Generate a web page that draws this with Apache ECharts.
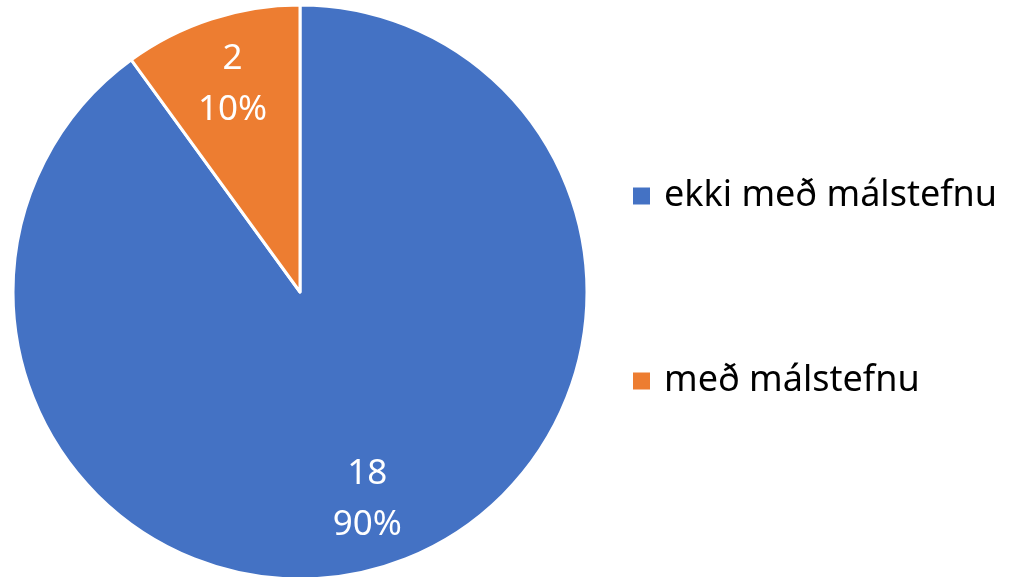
<!DOCTYPE html>
<html>
<head>
<meta charset="utf-8">
<script src="https://cdn.jsdelivr.net/npm/echarts@6/dist/echarts.min.js"></script>
<style>
  html, body { margin: 0; padding: 0; background: #fff; }
  #main { width: 1010px; height: 577px; }
</style>
</head>
<body>
<div id="main"></div>
<script>
// gögn úr myndinni
const categories = ['ekki með málstefnu', 'með málstefnu'];
const counts = [18, 2];
const colors = ['#4472C4', '#ED7D31'];

const pieData = categories.map((name, i) => ({ name: name, value: counts[i] }));
const fontFamily = '"Noto Sans", "Open Sans", sans-serif';

let myChart = echarts.init(document.getElementById('main'));
myChart.setOption({
  animation: false,
  color: colors,
  legend: {
    orient: 'vertical',
    left: 631,
    top: 174,
    padding: 0,
    itemWidth: 19,
    itemHeight: 19,
    itemGap: 141,
    icon: 'rect',
    data: categories,
    textStyle: {
      fontFamily: fontFamily,
      fontSize: 36,
      color: '#000',
      lineHeight: 44,
      padding: [0, 0, 0, 8]
    }
  },
  series: [
    {
      name: 'main',
      type: 'pie',
      center: [300, 292],
      radius: 287,
      startAngle: 90,
      clockwise: true,
      silent: true,
      data: pieData,
      itemStyle: { borderColor: '#fff', borderWidth: 3 },
      label: { show: false },
      labelLine: { show: false }
    },
    {
      // bara fyrir merkingar, staðsettar lengra út en miðja radíus
      name: 'labels',
      type: 'pie',
      center: [300, 292],
      radius: [143, 287],
      startAngle: 90,
      clockwise: true,
      silent: true,
      data: pieData,
      itemStyle: { color: 'rgba(0,0,0,0)' },
      label: {
        show: true,
        position: 'inside',
        formatter: p => p.value + '\n' + Math.round(p.percent) + '%',
        color: '#fff',
        fontFamily: fontFamily,
        fontSize: 35,
        lineHeight: 51
      },
      labelLine: { show: false }
    }
  ]
});
</script>
</body>
</html>
